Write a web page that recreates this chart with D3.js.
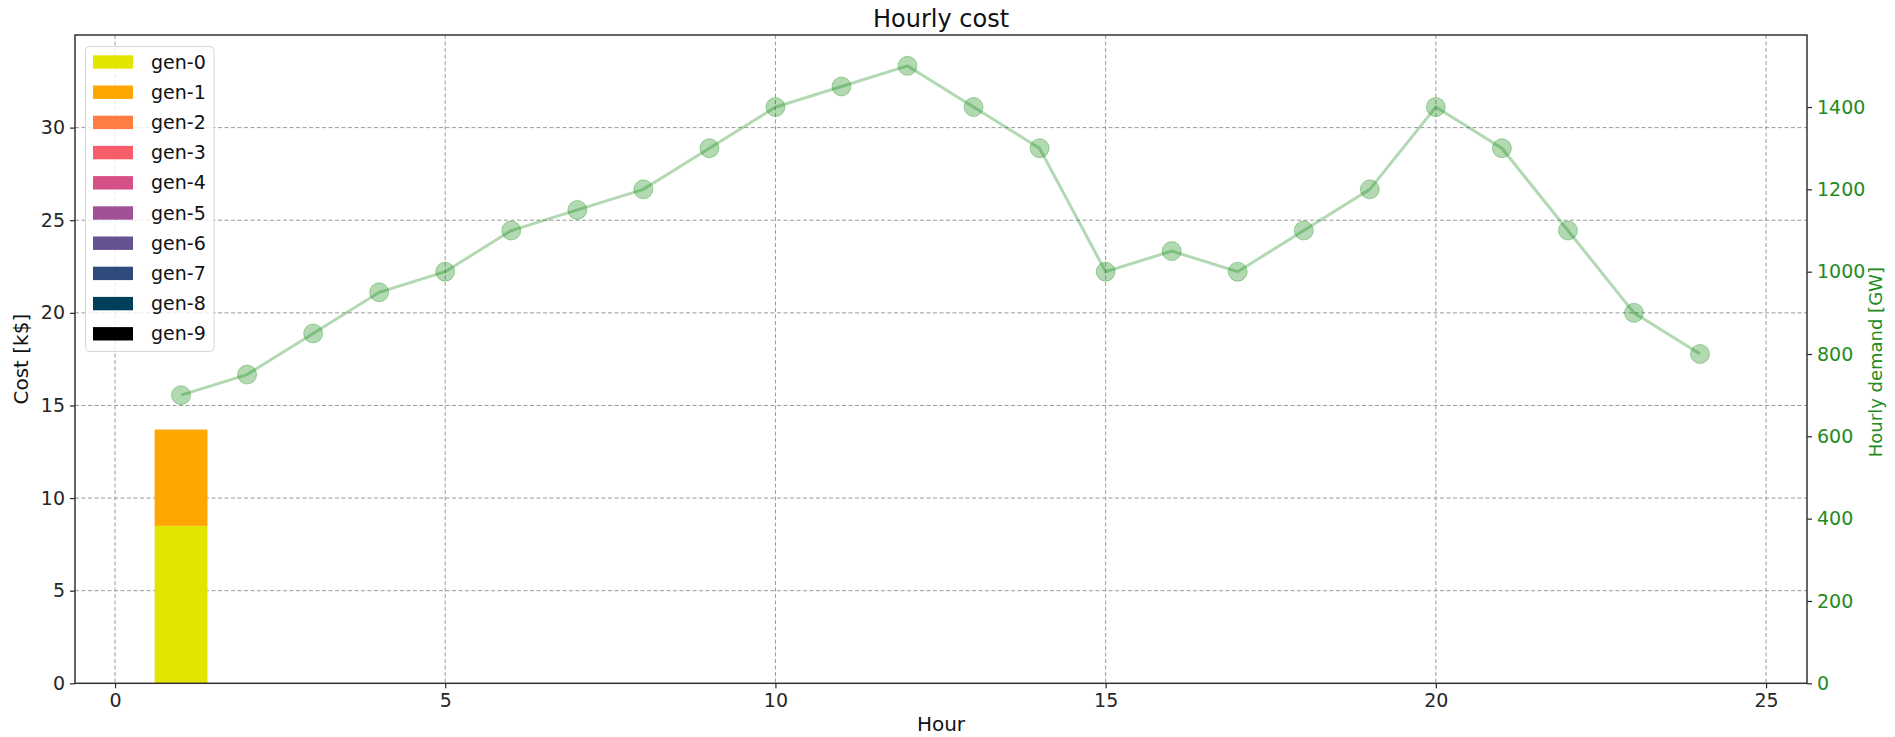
<!DOCTYPE html>
<html>
<head>
<meta charset="utf-8">
<script src="https://cdn.jsdelivr.net/npm/d3@7"></script>
<style>
  html, body { margin: 0; padding: 0; background: #fff; }
  svg { display: block; font-family: "DejaVu Sans", sans-serif; }
</style>
</head>
<body>
<svg id="chart" width="1895" height="737"></svg>
<script>
// ---- data ----
const hours = [1,2,3,4,5,6,7,8,9,10,11,12,13,14,15,16,17,18,19,20,21,22,23,24];
const demand = [700,750,850,950,1000,1100,1150,1200,1300,1400,1450,1500,1400,1300,1000,1050,1000,1100,1200,1400,1300,1100,900,800];
const genNames = ["gen-0","gen-1","gen-2","gen-3","gen-4","gen-5","gen-6","gen-7","gen-8","gen-9"];
const genColors = ["#e3e500","#ffa600","#ff7c43","#f95d6a","#d45087","#a05195","#665191","#2f4b7c","#003f5c","#000000"];
const costHours = [1];
const gen0Cost = [8.5];
const gen1Cost = [5.2];
const gen2Cost = [0];
const gen3Cost = [0];
const gen4Cost = [0];
const gen5Cost = [0];
const gen6Cost = [0];
const gen7Cost = [0];
const gen8Cost = [0];
const gen9Cost = [0];
const genCosts = [gen0Cost,gen1Cost,gen2Cost,gen3Cost,gen4Cost,gen5Cost,gen6Cost,gen7Cost,gen8Cost,gen9Cost];
const xTicks = [0,5,10,15,20,25];
const yTicks = [0,5,10,15,20,25,30];
const y2Ticks = [0,200,400,600,800,1000,1200,1400];

// ---- layout ----
const L = 75, R = 1807, T = 35, B = 683.3;
const svg = d3.select("#chart");
const x = d3.scaleLinear().domain([-0.606, 25.62]).range([L, R]);
const y = d3.scaleLinear().domain([0, 35]).range([B, T]);
const y2 = d3.scaleLinear().domain([0, 1575]).range([B, T]);
const tickCol = "#262626";
const green = "#228b22";

// grid
const grid = svg.append("g").attr("stroke", "#9a9a9a").attr("stroke-width", 1).attr("stroke-dasharray", "4,2.5");
grid.selectAll("line.v").data(xTicks).join("line")
  .attr("x1", d => x(d)).attr("x2", d => x(d)).attr("y1", T).attr("y2", B);
grid.selectAll("line.h").data(yTicks.filter(d => d > 0)).join("line")
  .attr("x1", L).attr("x2", R).attr("y1", d => y(d)).attr("y2", d => y(d));

// stacked bars
const stackRows = costHours.map((h, i) => {
  const row = { hour: h };
  genNames.forEach((g, k) => row[g] = genCosts[k][i]);
  return row;
});
const stack = d3.stack().keys(genNames)(stackRows);
const barW = x(0.8) - x(0);
svg.append("g").selectAll("g").data(stack).join("g")
  .attr("fill", (d, i) => genColors[i])
  .selectAll("rect").data(d => d).join("rect")
  .attr("x", d => x(d.data.hour) - barW / 2)
  .attr("width", barW)
  .attr("y", d => y(d[1]))
  .attr("height", d => Math.max(0, y(d[0]) - y(d[1])));

// demand line
const lineG = svg.append("g");
lineG.append("path")
  .datum(hours.map((h, i) => [h, demand[i]]))
  .attr("fill", "none").attr("stroke", "green").attr("stroke-opacity", 0.3).attr("stroke-width", 3)
  .attr("d", d3.line().x(d => x(d[0])).y(d => y2(d[1])));
lineG.selectAll("circle").data(hours.map((h, i) => [h, demand[i]])).join("circle")
  .attr("cx", d => x(d[0])).attr("cy", d => y2(d[1])).attr("r", 9.5)
  .attr("fill", "green").attr("fill-opacity", 0.3)
  .attr("stroke", "green").attr("stroke-opacity", 0.3).attr("stroke-width", 1);

// axes
const fs = 19;
const xAxis = svg.append("g").attr("transform", `translate(0,${B})`)
  .call(d3.axisBottom(x).tickValues(xTicks).tickSize(5).tickPadding(5).tickFormat(d3.format("d")));
const yAxis = svg.append("g").attr("transform", `translate(${L},0)`)
  .call(d3.axisLeft(y).tickValues(yTicks).tickSize(5).tickPadding(5).tickFormat(d3.format("d")));
const y2Axis = svg.append("g").attr("transform", `translate(${R},0)`)
  .call(d3.axisRight(y2).tickValues(y2Ticks).tickSize(5).tickPadding(5).tickFormat(d3.format("d")));
[xAxis, yAxis, y2Axis].forEach(a => {
  a.select(".domain").remove();
  a.selectAll(".tick line").attr("stroke", tickCol).attr("stroke-width", 1.2);
  a.selectAll(".tick text").attr("font-size", fs).attr("font-family", "DejaVu Sans").attr("fill", tickCol);
});
y2Axis.selectAll(".tick text").attr("fill", green);

// frame
svg.append("rect").attr("x", L).attr("y", T).attr("width", R - L).attr("height", B - T)
  .attr("fill", "none").attr("stroke", "#333").attr("stroke-width", 1.5);

// labels
svg.append("text").attr("x", (L + R) / 2).attr("y", 27).attr("text-anchor", "middle")
  .attr("font-size", 24).attr("fill", "#111").text("Hourly cost");
svg.append("text").attr("x", (L + R) / 2).attr("y", 731).attr("text-anchor", "middle")
  .attr("font-size", 20).attr("fill", "#111").text("Hour");
svg.append("text").attr("transform", `translate(28,${(T + B) / 2}) rotate(-90)`).attr("text-anchor", "middle")
  .attr("font-size", 20).attr("fill", "#111").text("Cost [k$]");
svg.append("text").attr("transform", `translate(1882,${(T + B) / 2 + 3}) rotate(-90)`).attr("text-anchor", "middle")
  .attr("font-size", 18).attr("fill", green).text("Hourly demand [GW]");

// legend
const lg = svg.append("g");
lg.append("rect").attr("x", 85.5).attr("y", 46.5).attr("width", 128.5).attr("height", 305)
  .attr("rx", 4).attr("fill", "#fff").attr("fill-opacity", 0.8).attr("stroke", "#d6d6d6").attr("stroke-width", 1);
const items = lg.selectAll("g.item").data(genNames).join("g")
  .attr("transform", (d, i) => `translate(0,${62 + i * 30.2})`);
items.append("rect").attr("x", 93).attr("y", -6.7).attr("width", 40).attr("height", 13.4)
  .attr("fill", (d, i) => genColors[i]);
items.append("text").attr("x", 151).attr("y", 0).attr("dy", "0.35em")
  .attr("font-size", fs).attr("fill", "#111").text(d => d);
</script>
</body>
</html>
